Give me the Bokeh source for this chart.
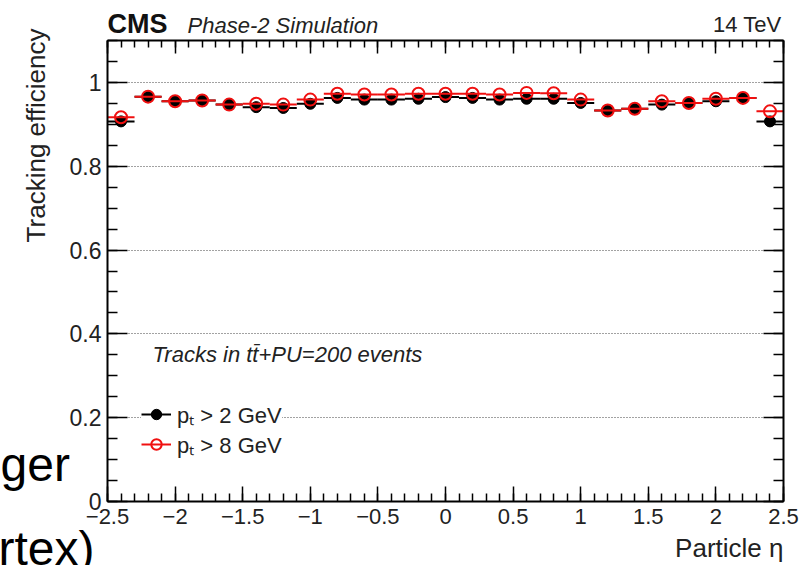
import numpy as np
from bokeh.plotting import figure
from bokeh.models import (Range1d, LinearAxis, FixedTicker, Legend, LegendItem, Label,
                          ColumnDataSource, CustomJSTickFormatter, Grid)
from bokeh.embed import file_html
from bokeh.resources import INLINE

# ---------------- data ----------------
eta = [-2.4, -2.2, -2.0, -1.8, -1.6, -1.4, -1.2, -1.0, -0.8, -0.6, -0.4, -0.2, 0.0,
       0.2, 0.4, 0.6, 0.8, 1.0, 1.2, 1.4, 1.6, 1.8, 2.0, 2.2, 2.4]
bin_half_width = 0.1
eff_pt2 = [0.907, 0.966, 0.955, 0.957, 0.947, 0.941, 0.939, 0.949, 0.963, 0.959, 0.959, 0.961, 0.965,
           0.963, 0.959, 0.961, 0.961, 0.951, 0.933, 0.937, 0.947, 0.951, 0.955, 0.963, 0.907]
eff_pt8 = [0.917, 0.966, 0.955, 0.957, 0.947, 0.949, 0.947, 0.959, 0.973, 0.971, 0.971, 0.973, 0.973,
           0.973, 0.971, 0.975, 0.974, 0.959, 0.933, 0.937, 0.955, 0.951, 0.961, 0.963, 0.931]
series_labels = ["p\u209c > 2 GeV", "p\u209c > 8 GeV"]

x_tick_values = [-2.5, -2, -1.5, -1, -0.5, 0, 0.5, 1, 1.5, 2, 2.5]
x_tick_labels = ["\u22122.5", "\u22122", "\u22121.5", "\u22121", "\u22120.5", "0", "0.5", "1", "1.5", "2", "2.5"]
y_tick_values = [0, 0.2, 0.4, 0.6, 0.8, 1]
y_tick_labels = ["0", "0.2", "0.4", "0.6", "0.8", "1"]

FONT = "Liberation Sans"
RED = "#f01010"

# axes box: eta -2.5..2.5 and efficiency 0..1.1, placed at pixels 107..783 x 40..501
X0, X1, Y0, Y1 = -2.5, 2.5, 0.0, 1.1
PXX = 676 / (X1 - X0)
PXY = 461 / (Y1 - Y0)

p = figure(width=801, height=565,
           x_range=Range1d(X0 - 107 / PXX, X1 + 18 / PXX),
           y_range=Range1d(Y0 - 64 / PXY, Y1 + 40 / PXY),
           output_backend="svg", toolbar_location=None, x_axis_type=None, y_axis_type=None,
           min_border=0, min_border_left=0, min_border_right=0, min_border_top=0, min_border_bottom=0,
           outline_line_color=None, background_fill_color="white", border_fill_color="white")

x_minor = [float(v) for v in np.round(np.arange(X0, X1 + 1e-4, 0.1), 2)]
y_minor = [float(v) for v in np.round(np.arange(Y0, Y1 + 1e-4, 0.05), 2)]
xt = FixedTicker(ticks=x_tick_values, minor_ticks=x_minor)
yt = FixedTicker(ticks=y_tick_values, minor_ticks=y_minor)

def key(v):
    return int(v) if float(v).is_integer() else float(v)

def style(ax, major, minor):
    ax.axis_line_color = "black"
    ax.axis_line_width = 2
    ax.major_tick_in = major
    ax.major_tick_out = 0
    ax.minor_tick_in = minor
    ax.minor_tick_out = 0
    ax.major_tick_line_width = 1.5
    ax.minor_tick_line_width = 1.5
    ax.major_tick_line_color = "black"
    ax.minor_tick_line_color = "black"

# grid first (underneath everything)
if "cross_bounds" in Grid.properties():
    p.add_layout(Grid(dimension=1, ticker=FixedTicker(ticks=y_tick_values[1:]), cross_bounds=(X0, X1),
                      grid_line_color="#444444", grid_line_dash="1 2", grid_line_width=1))
else:
    gy = y_tick_values[1:]
    p.segment(x0=[X0] * len(gy), x1=[X1] * len(gy), y0=gy, y1=gy,
              line_color="#444444", line_dash="1 2", line_width=1)

bottom = LinearAxis(ticker=xt, fixed_location=Y0, bounds=(X0, X1),
                    major_label_overrides={key(v): l for v, l in zip(x_tick_values, x_tick_labels)})
style(bottom, 15, 8)
bottom.major_label_text_font = FONT
bottom.major_label_text_font_size = "22px"
bottom.major_label_text_color = "#222222"
bottom.major_label_standoff = 7
p.add_layout(bottom, "below")

left = LinearAxis(ticker=yt, fixed_location=X0, bounds=(Y0, Y1),
                  major_label_overrides={key(v): l for v, l in zip(y_tick_values, y_tick_labels)})
style(left, 20, 10)
left.major_label_text_font = FONT
left.major_label_text_font_size = "23px"
left.major_label_text_color = "#222222"
left.major_label_standoff = 6
p.add_layout(left, "left")

top = LinearAxis(ticker=xt, fixed_location=Y1, bounds=(X0, X1),
                 formatter=CustomJSTickFormatter(code="return ''"))
style(top, 13, 7)
top.major_label_text_font_size = "0px"
top.major_label_standoff = 0
p.add_layout(top, "above")

right = LinearAxis(ticker=yt, fixed_location=X1, bounds=(Y0, Y1),
                   formatter=CustomJSTickFormatter(code="return ''"))
style(right, 20, 10)
right.major_label_text_font_size = "0px"
right.major_label_standoff = 0
p.add_layout(right, "right")

# ---------------- data glyphs ----------------
src2 = ColumnDataSource(dict(eta=eta, eff=eff_pt2,
                             lo=[e - bin_half_width for e in eta], hi=[e + bin_half_width for e in eta]))
src8 = ColumnDataSource(dict(eta=eta, eff=eff_pt8,
                             lo=[e - bin_half_width for e in eta], hi=[e + bin_half_width for e in eta]))

seg2 = p.segment(x0="lo", y0="eff", x1="hi", y1="eff", source=src2, line_color="black", line_width=2)
sc2 = p.scatter(x="eta", y="eff", source=src2, marker="circle", size=11,
                fill_color="black", line_color="black")
seg8 = p.segment(x0="lo", y0="eff", x1="hi", y1="eff", source=src8, line_color=RED, line_width=2)
sc8 = p.scatter(x="eta", y="eff", source=src8, marker="circle", size=12,
                fill_color=None, line_color=RED, line_width=2)

legend = Legend(items=[LegendItem(label=series_labels[0], renderers=[seg2, sc2]),
                       LegendItem(label=series_labels[1], renderers=[seg8, sc8])],
                location=(141, 106), padding=6, spacing=0, margin=0,
                glyph_width=30, glyph_height=26, label_height=26, label_standoff=6,
                label_text_font=FONT, label_text_font_size="22px", label_text_color="#222222",
                border_line_color=None, background_fill_color="white", background_fill_alpha=1)
p.add_layout(legend)

# ---------------- texts (y = vertical centre of the text) ----------------
def lab(text, x, y, size, style="normal", align="left", angle=0, color="#111111"):
    p.add_layout(Label(x=x, y=y, text=text, text_font=FONT, text_font_size=size,
                       text_font_style=style, text_align=align, text_baseline="middle",
                       angle=angle, angle_units="deg", text_color=color))

lab("CMS", -2.5, 1.1394, "27px", style="bold")
lab("Phase-2 Simulation", -1.908, 1.1367, "22px", style="italic", color="#222222")
lab("14 TeV", 2.485, 1.1375, "22px", align="right", color="#222222")
lab("Tracking efficiency", -3.0325, 1.1286, "26px", align="right", angle=90, color="#222222")
lab("Particle \u03b7", 2.5, -0.1119, "26px", align="right", color="#222222")
lab("Tracks in tt\u0304+PU=200 events", -2.167, 0.3508, "22px", style="italic", color="#222222")

# slide text fragments visible around the chart
lab("ger", -3.2914, 0.0877, "48px", color="black")
lab("rtex)", -3.306, -0.1127, "48px", color="black")

open("out.html", "w").write(file_html(p, INLINE))
